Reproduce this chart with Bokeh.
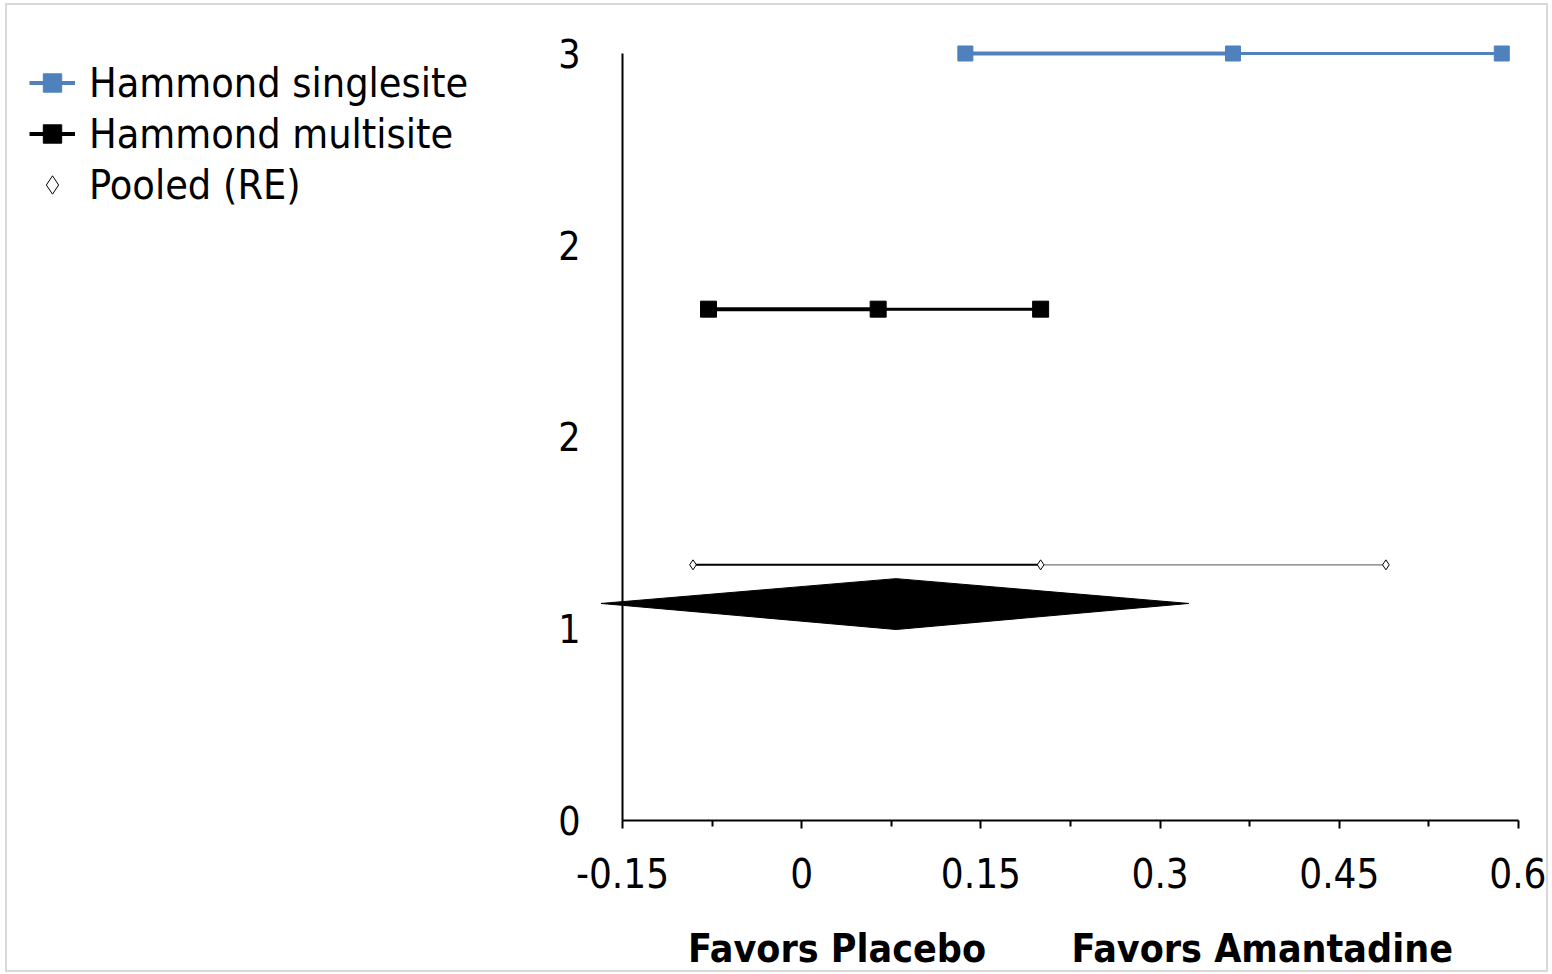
from bokeh.plotting import figure
from bokeh.models import FixedTicker, Legend, LegendItem
from bokeh.core.properties import value
from bokeh.embed import file_html
from bokeh.resources import INLINE

# ---------------- data ----------------
series_names = ["Hammond singlesite", "Hammond multisite", "Pooled (RE)"]
single_x = [0.137, 0.361, 0.586]
single_y = [3, 3, 3]
multi_x = [-0.078, 0.064, 0.200]
multi_y = [2, 2, 2]
pooled_x = [-0.091, 0.200, 0.489]
pooled_y = [1, 1, 1]
diamond_x = [-0.168, 0.079, 0.324, 0.079]
diamond_y = [0.849, 0.946, 0.849, 0.747]
x_ticks = [-0.15, 0, 0.15, 0.3, 0.45, 0.6]
x_tick_labels = ["-0.15", "0", "0.15", "0.3", "0.45", "0.6"]
x_minor_ticks = [-0.075, 0.075, 0.225, 0.375, 0.525]
y_ticks = [0, 0.75, 1.5, 2.25, 3]
y_tick_labels = ["0", "1", "2", "2", "3"]
x_title_left = "Favors Placebo"
x_title_right = "Favors Amantadine"

# ---------------- styling / layout ----------------
FONT = "'DejaVu Sans Condensed', 'DejaVu Sans', sans-serif"
BLUE = "#4F81BD"
NB = "\u00a0"

# The frame covers the whole chart area (legend on the left, axis texts below);
# both axes are pinned at the data origin (-0.15, 0) and limited to the data bounds.
X_VIEW = (-0.66479, 0.626786)
Y_VIEW = (-0.602345, 3.18774)

p = figure(
    width=1543, height=969, title=None,
    x_range=X_VIEW, y_range=Y_VIEW,
    output_backend="svg", toolbar_location=None,
    min_border=0,
    styles={"border": "2px solid #d9d9d9", "margin-left": "5px", "margin-top": "3px"},
)
p.grid.visible = False
p.outline_line_color = None
p.background_fill_color = "white"
p.border_fill_color = "white"

# pooled diamond (summary estimate)
p.patch(diamond_x, diamond_y, fill_color="black", line_color="black", line_width=1)

def segs(xs, ys, widths, colors):
    return p.segment(x0=xs[:-1], y0=ys[:-1], x1=xs[1:], y1=ys[1:],
                     line_width=widths, line_color=colors)

seg1 = segs(single_x, single_y, [4, 3], [BLUE, BLUE])
sc1 = p.scatter(single_x, single_y, marker="square", size=15,
                fill_color=BLUE, line_color=BLUE)
seg2 = segs(multi_x, multi_y, [4, 3], ["black", "black"])
sc2 = p.scatter(multi_x, multi_y, marker="square", size=16,
                fill_color="black", line_color="black")
seg3 = segs(pooled_x, pooled_y, [2, 1.3], ["black", "#777777"])
sc3 = p.scatter(pooled_x, pooled_y, marker="diamond", size=10,
                fill_color="white", line_color="black", line_width=1)

# x axis
xa = p.xaxis[0]
xa.fixed_location = y_ticks[0]
xa.bounds = (x_ticks[0], x_ticks[-1])
xa.ticker = FixedTicker(ticks=x_ticks, minor_ticks=x_minor_ticks)
xa.major_label_overrides = dict(zip(x_ticks, x_tick_labels))
xa.axis_line_width = 2
xa.major_tick_line_width = 2
xa.minor_tick_line_width = 2
xa.major_tick_out = 8
xa.major_tick_in = 0
xa.minor_tick_out = 6
xa.minor_tick_in = 0
xa.major_label_text_font = FONT
xa.major_label_text_font_size = "40px"
xa.major_label_text_color = "black"
xa.major_label_standoff = 29

# x axis title, centred under the axis
p.text(x=[(x_ticks[0] + x_ticks[-1]) / 2], y=[y_ticks[0]],
       text=[x_title_left + NB * 7 + x_title_right],
       y_offset=128, text_align="center", text_baseline="middle",
       text_font=value(FONT), text_font_size="39px", text_font_style="bold",
       text_color="black")

# y axis
ya = p.yaxis[0]
ya.fixed_location = x_ticks[0]
ya.bounds = (y_ticks[0], y_ticks[-1])
ya.ticker = FixedTicker(ticks=y_ticks, minor_ticks=[])
ya.major_label_overrides = dict(zip(y_ticks, y_tick_labels))
ya.axis_line_width = 2
ya.major_tick_out = 0
ya.major_tick_in = 0
ya.minor_tick_out = 0
ya.minor_tick_in = 0
ya.major_label_text_font = FONT
ya.major_label_text_font_size = "39px"
ya.major_label_text_color = "black"
ya.major_label_standoff = 42

legend = Legend(
    items=[
        LegendItem(label=series_names[0], renderers=[seg1, sc1]),
        LegendItem(label=series_names[1], renderers=[seg2, sc2]),
        LegendItem(label=series_names[2], renderers=[sc3]),
    ],
    location=(22, 764),
    glyph_width=46, glyph_height=51, label_height=51,
    spacing=0, padding=0, margin=0, label_standoff=14,
    label_text_font=FONT, label_text_font_size="41px", label_text_color="black",
    border_line_alpha=0, background_fill_alpha=0,
)
p.add_layout(legend)

open("out.html", "w").write(file_html(p, INLINE))
